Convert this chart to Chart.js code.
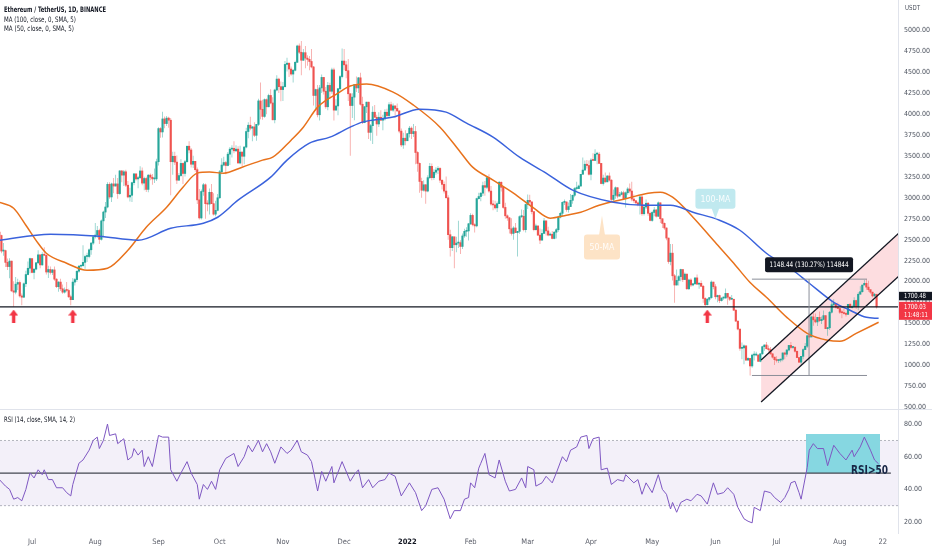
<!DOCTYPE html>
<html lang="en">
<head>
<meta charset="utf-8">
<title>Ethereum / TetherUS, 1D, BINANCE</title>
<script src="https://cdn.jsdelivr.net/npm/chart.js@4.4.1/dist/chart.umd.min.js"></script>
<style>
  body { margin: 0; background: #fff; }
  .pane { position: absolute; left: 0; width: 932px; }
  #pricePane { top: 0; height: 410px; }
  #rsiPane { top: 410px; height: 140px; }
  #sep { position: absolute; left: 0; top: 409px; width: 932px; height: 1px; background: #e0e3eb; z-index: 2; }
</style>
</head>
<body>
<div class="pane" id="pricePane"><canvas id="priceChart"></canvas></div>
<div id="sep"></div>
<div class="pane" id="rsiPane"><canvas id="rsiChart"></canvas></div>
<script>
// Daily ETH/USDT candles, 15 Jun 2021 .. 19 Aug 2022.
// Day numbers count from 1 Jul 2021 (= day 0). Open of each candle = previous close.
const firstDay = -16;
const firstOpen = 2590;

const closes = [
  // Jun 2021 (15-30)
  2550,2365,2370,2230,2180,2245,1890,1875,1970,1990,1830,1815,1975,2085,2160,2275,
  // Jul
  2110,2150,2225,2320,2200,2325,2315,2115,2145,2110,2140,2030,1940,1995,1915,1875,1900,1895,1820,1785,
  1995,2025,2125,2185,2190,2230,2300,2300,2380,2460,2535,
  // Aug
  2555,2610,2505,2725,2830,2890,3160,3010,3165,3140,3165,3050,3320,3270,3310,3150,3010,3030,3180,3285,
  3225,3240,3320,3175,3230,3100,3270,3245,3225,3225,3430,
  // Sep
  3825,3785,3940,3885,3950,3925,3430,3495,3425,3210,3265,3410,3290,3430,3615,3570,3400,3435,3335,2975,
  2760,3075,3155,2930,2925,3065,2930,2805,2850,3000,
  // Oct
  3310,3390,3420,3385,3520,3580,3590,3560,3580,3415,3545,3495,3605,3790,3865,3830,3845,3745,3875,4155,
  4055,3970,4170,4085,4220,4130,3930,4285,4415,4325,4290,
  // Nov
  4325,4590,4605,4535,4475,4520,4615,4810,4735,4640,4730,4665,4650,4625,4560,4220,4290,3990,4310,4435,
  4270,4085,4340,4270,4525,4045,4095,4300,4445,4630,
  // Dec
  4585,4515,4240,4100,4200,4350,4310,4430,4115,3895,4085,4140,3780,3860,4020,3960,3880,3960,3925,3940,
  4020,3980,4110,4045,4095,4065,4035,3795,3630,3710,3680,
  // Jan 2022
  3765,3830,3765,3790,3540,3410,3195,3090,3155,3080,3240,3375,3240,3305,3330,3350,3210,3160,3080,3000,
  2560,2405,2535,2440,2460,2465,2420,2545,2600,2605,2690,
  // Feb
  2790,2680,2665,2990,3015,3055,3145,3125,3240,3080,2925,2915,2880,2930,3185,3125,2885,2785,2760,2630,
  2575,2640,2585,2600,2775,2780,2620,2920,
  // Mar
  2970,2950,2835,2620,2665,2555,2495,2575,2725,2605,2555,2565,2515,2590,2620,2770,2815,2945,2950,2860,
  2895,2970,3030,3110,3110,3140,3280,3330,3400,3385,3280,
  // Apr
  3450,3445,3520,3520,3410,3170,3235,3190,3260,3210,2980,3030,3120,3020,3040,3060,2990,3060,3105,3080,
  2985,2965,2940,2920,3010,2810,2890,2935,2815,2730,
  // May
  2825,2855,2780,2940,2750,2695,2640,2520,2240,2340,2070,1960,2015,2060,2145,2025,2090,1915,2020,1960,
  1975,2045,1970,1980,1945,1800,1725,1790,1810,1995,1940,
  // Jun
  1820,1835,1775,1805,1805,1860,1815,1790,1790,1660,1530,1435,1205,1210,1235,1065,1085,995,1125,1125,
  1125,1050,1140,1225,1245,1200,1190,1140,1100,1070,
  // Jul
  1060,1065,1075,1150,1135,1185,1240,1215,1220,1170,1095,1040,1110,1190,1230,1355,1340,1580,1545,1520,
  1575,1535,1550,1595,1440,1450,1635,1725,1740,1695,1680,
  // Aug (1-19)
  1635,1630,1620,1610,1730,1690,1700,1775,1700,1850,1880,1960,1980,1935,1905,1875,1830,1850,1700.03
];

const highs = [
  2630,2560,2460,2380,2275,2280,2250,2005,2055,2035,2015,1860,1990,2130,2240,2285,
  2275,2155,2235,2375,2320,2350,2410,2320,2190,2180,2150,2180,2040,2005,2035,1965,1930,1995,1915,1845,
  2045,2045,2130,2195,2200,2435,2320,2345,2395,2470,2555,
  2700,2665,2630,2740,2845,2950,3185,3185,3180,3235,3275,3235,3330,3330,3330,3335,3200,3120,3190,3295,
  3290,3260,3375,3360,3250,3250,3280,3290,3285,3350,3465,
  3840,3840,4025,3970,3975,3965,3950,3550,3550,3505,3295,3460,3420,3450,3615,3675,3595,3500,3440,3360,
  3105,3100,3175,3170,2970,3110,3165,3055,2965,3045,
  3330,3470,3490,3440,3545,3605,3625,3675,3625,3615,3620,3550,3615,3835,3900,3965,3855,3900,3880,4180,
  4375,4170,4185,4185,4240,4295,4200,4300,4460,4430,4385,
  4380,4630,4670,4610,4565,4535,4635,4825,4840,4868,4775,4810,4700,4690,4775,4570,4300,4345,4345,4470,
  4440,4320,4380,4370,4550,4550,4175,4310,4460,4780,
  4775,4630,4655,4245,4245,4355,4445,4440,4490,4205,4095,4145,4145,3880,4090,4105,3990,4020,4045,3990,
  4055,4060,4140,4145,4125,4100,4125,4045,3825,3775,3805,
  3770,3855,3850,3880,3855,3555,3420,3240,3210,3165,3270,3415,3410,3340,3365,3375,3365,3215,3195,3255,
  3030,2620,2545,2535,2535,2725,2495,2575,2630,2650,2700,
  2815,2810,2695,3000,3060,3065,3190,3200,3260,3280,3140,2970,2965,2955,3200,3195,3135,2940,2800,2770,
  2755,2660,2700,2605,2790,2860,2855,2930,
  3040,3035,2960,2840,2690,2665,2635,2625,2760,2725,2655,2585,2605,2600,2640,2785,2835,2955,2980,2955,
  2945,3045,3035,3125,3190,3155,3285,3480,3445,3450,3445,
  3470,3530,3580,3550,3545,3415,3275,3300,3270,3300,3220,3100,3135,3125,3070,3080,3085,3075,3125,3170,
  3190,3040,2970,2955,3020,3035,2925,2980,2950,2835,
  2845,2890,2865,2955,2945,2755,2705,2645,2525,2450,2450,2090,2145,2075,2155,2145,2110,2095,2035,2040,
  1985,2050,2085,1990,2015,1960,1815,1805,1815,2015,2000,
  1970,1845,1845,1810,1820,1920,1865,1820,1840,1795,1670,1535,1435,1275,1250,1235,1100,1090,1140,1170,
  1165,1135,1145,1235,1250,1280,1240,1220,1145,1105,
  1110,1070,1080,1155,1165,1195,1245,1280,1230,1220,1175,1095,1115,1205,1270,1365,1405,1595,1625,1620,
  1580,1645,1585,1655,1600,1460,1650,1780,1790,1745,1750,
  1690,1665,1680,1640,1735,1745,1725,1815,1785,1875,1945,1960,2020,2030,2010,1905,1880,1865,1850
];

const lows = [
  2515,2340,2310,2175,2140,2040,1880,1700,1850,1900,1810,1720,1805,1935,2075,2100,
  2100,2030,2135,2210,2160,2190,2305,2085,2045,2085,2080,2010,1925,1880,1890,1855,1860,1875,1805,1718,
  1780,1955,1995,2105,2150,2180,2155,2235,2280,2320,2440,
  2515,2525,2450,2490,2530,2760,2875,2990,2950,3055,3135,2990,3035,3185,3140,3130,2995,2955,2950,3150,
  3205,3115,3225,3150,3090,3070,3065,3210,3155,3175,3200,
  3385,3715,3720,3830,3855,3835,3030,3275,3390,3165,3200,3250,3165,3255,3420,3530,3360,3355,3310,2925,
  2740,2740,3025,2750,2840,2800,2925,2790,2780,2840,
  2990,3280,3375,3280,3375,3390,3480,3530,3545,3410,3400,3380,3400,3590,3710,3805,3675,3725,3680,3855,
  3935,3930,3955,3995,4080,4115,3925,3890,4270,4250,4150,
  4155,4315,4505,4440,4455,4375,4510,4610,4715,4460,4630,4545,4575,4520,4545,4100,4060,3960,3920,4250,
  4230,4060,4045,4180,4240,3920,4040,3985,4280,4425,
  4520,4425,4155,3500,3950,3925,4260,4250,4100,3880,3895,4010,3700,3680,3640,3955,3740,3845,3915,3805,
  3920,3960,3950,4035,4025,3985,4030,3770,3605,3585,3625,
  3680,3720,3700,3725,3400,3310,3060,3000,3075,2930,3065,3225,3210,3215,3275,3285,3175,3100,3050,2995,
  2500,2300,2365,2160,2350,2400,2330,2390,2525,2535,2490,
  2675,2660,2585,2650,2980,2960,3020,3025,3105,3060,2905,2850,2860,2830,2925,3075,2870,2750,2725,2575,
  2550,2500,2580,2300,2570,2760,2600,2585,
  2865,2915,2805,2600,2610,2545,2450,2490,2575,2550,2540,2550,2505,2505,2515,2595,2755,2780,2915,2835,
  2825,2895,2930,3005,3085,3105,3135,3280,3325,3350,3265,
  3210,3440,3440,3400,3405,3160,3145,3180,3185,3195,2950,2955,2990,2995,3015,3030,2980,2885,3035,3055,
  2960,2940,2925,2900,2800,2785,2790,2865,2785,2720,
  2715,2780,2765,2770,2700,2640,2620,2495,2215,2195,2015,1750,1955,1955,2005,1995,2020,1905,1900,1935,
  1945,1960,1965,1915,1935,1750,1705,1720,1765,1795,1910,
  1790,1755,1745,1765,1785,1800,1725,1770,1785,1650,1520,1420,1175,1075,1015,1055,1060,881.56,975,1060,
  1110,1045,1040,1130,1175,1195,1165,1130,1085,1005,
  1035,1030,1040,1050,1075,1105,1170,1195,1200,1155,1090,1030,1010,1075,1185,1210,1335,1340,1475,1505,
  1470,1520,1495,1540,1435,1355,1425,1620,1690,1680,1675,
  1615,1565,1610,1585,1605,1685,1680,1700,1675,1660,1850,1870,1960,1905,1880,1855,1815,1820,1680
];

// moving averages (day, value)
const ma100Days = [-16, 9, 33, 52, 68, 84, 91, 101, 117, 125, 136, 146, 156, 162, 177, 190, 203, 213, 226,
  239, 252, 265, 285, 300, 313, 324, 337, 347, 360, 373, 381, 393, 401, 409, 415];
const ma100 = [2494, 2566, 2542, 2494, 2637, 2697, 2768, 2971, 3246, 3449, 3651, 3723, 3842, 3902, 3962, 4057,
  4021, 3890, 3723, 3484, 3294, 3091, 2947, 2912, 2912, 2828, 2733, 2613, 2339, 2136, 1981, 1754, 1659, 1575, 1563];

const ma50Days = [-16, -9, -3, 3, 7, 17, 27, 37, 47, 56, 66, 74, 81, 87, 94, 103, 113, 118, 127, 133, 140,
  150, 156, 164, 177, 187, 200, 210, 216, 226, 236, 246, 254, 262, 269, 278, 292, 302, 308, 314, 324, 334,
  344, 352, 360, 370, 380, 390, 396, 404, 415];
const ma50 = [2947, 2876, 2673, 2458, 2339, 2220, 2136, 2160, 2375, 2649, 2888, 3126, 3294, 3306, 3294, 3365,
  3449, 3484, 3687, 3842, 4081, 4248, 4332, 4356, 4260, 4105, 3842, 3544, 3365, 3210, 3055, 2876, 2757,
  2792, 2828, 2912, 2995, 3055, 3067, 3007, 2769, 2494, 2220, 1990, 1814, 1575, 1384, 1301, 1289, 1384, 1516];

// RSI (14) (day, value)
const rsiDays = [-16, -13, -11, -9, -7, -5, -3, -1, 1, 3, 5, 6, 8, 10, 12, 15, 17, 19, 20, 23, 25, 28, 30, 32,
  33, 35, 37, 38, 41, 42, 45, 47, 49, 50, 52, 54, 55, 57, 59, 62, 64, 67, 68, 71, 73, 76, 78, 81, 82, 84, 86,
  88, 90, 92, 95, 99, 101, 104, 106, 108, 111, 113, 115, 117, 119, 122, 125, 127, 130, 132, 135, 137, 139,
  140, 142, 144, 147, 148, 152, 156, 158, 160, 162, 165, 167, 170, 173, 175, 178, 181, 185, 188, 191, 193,
  196, 199, 202, 205, 207, 210, 212, 214, 215, 217, 219, 220, 222, 224, 227, 229, 232, 234, 237, 240, 242,
  243, 246, 247, 250, 252, 255, 257, 260, 262, 264, 267, 269, 272, 273, 275, 278, 279, 282, 284, 287, 290,
  291, 295, 297, 299, 301, 304, 307, 309, 311, 313, 314, 316, 318, 321, 323, 326, 328, 331, 334, 336, 339,
  341, 344, 346, 349, 351, 353, 354, 357, 359, 362, 364, 367, 369, 371, 372, 374, 376, 377, 380, 381, 383,
  385, 388, 390, 393, 396, 399, 402, 403, 406, 408, 411, 413, 415];
const rsiValues = [46, 42, 40, 34, 35, 33, 40, 50, 47, 52, 49, 52, 46, 46, 41, 41, 38, 36, 43, 56, 58, 64, 70,
  72, 65, 70, 80, 73, 74, 68, 71, 58, 60, 65, 61, 64, 54, 60, 54, 73, 72, 72, 52, 45, 50, 57, 50, 43, 34, 43,
  40, 45, 40, 52, 59, 62, 54, 60, 67, 63, 70, 63, 68, 63, 56, 66, 62, 64, 70, 63, 61, 57, 45, 39, 51, 45, 54,
  44, 57, 45, 49, 52, 41, 46, 41, 45, 46, 50, 48, 36, 44, 38, 27, 30, 40, 41, 34, 22, 27, 27, 34, 35, 44, 41,
  53, 56, 62, 49, 47, 58, 45, 39, 40, 47, 41, 54, 52, 42, 44, 48, 44, 50, 60, 57, 64, 66, 72, 73, 65, 71, 72,
  52, 53, 43, 46, 45, 49, 44, 46, 37, 44, 38, 49, 40, 37, 28, 32, 26, 32, 34, 33, 37, 36, 31, 44, 37, 38, 41,
  37, 29, 22, 20.5, 19.5, 29, 27, 39, 38, 35, 32, 35, 40, 44, 45, 38, 34, 53.5, 64, 68, 65, 65, 54.5, 67, 62,
  58, 64, 60, 66, 72, 64, 58, 55.6];

// drawings on the chart
const supportLevel = 1700.48;
const lastPrice = 1700.03;
const channelDays = [357.4, 425.5];
const channelUpper = [1067, 2592];
const channelLower = [566, 2080];
const measureDays = [352.9, 409.3];
const measureMidDay = 380.9;
const measureRange = [881.56, 2030];
const arrowDays = [-9, 20, 331];
const arrowLevel = 1590;
const rsiBoxDays = [379.4, 415.7];
const rsiBoxRange = [50, 73.9];

// axis ticks
const priceTicks = [500, 750, 1000, 1250, 1500, 1750, 2000, 2250, 2500, 2750, 3000, 3250, 3500, 3750, 4000,
  4250, 4500, 4750, 5000];
const rsiTicks = [20, 40, 60, 80];
const monthDays = [0, 31, 62, 92, 123, 153, 184, 215, 243, 274, 304, 335, 365, 396, 417];
const monthLabels = ['Jul', 'Aug', 'Sep', 'Oct', 'Nov', 'Dec', '2022', 'Feb', 'Mar', 'Apr', 'May', 'Jun',
  'Jul', 'Aug', '22'];

const UP = '#26a69a', DOWN = '#ef5350';
const UP_WICK = 'rgba(38,166,154,0.55)', DOWN_WICK = 'rgba(239,83,80,0.55)';
const FONT = "'Liberation Sans Narrow', 'DejaVu Sans Condensed', 'Arial Narrow', sans-serif";
const xMin = -15.69, xMax = 424.5;

Chart.defaults.font.family = FONT;
Chart.defaults.animation = false;

const wicks = [], bodies = [], bodyColors = [], wickColors = [];
closes.forEach((c, i) => {
  const o = i === 0 ? firstOpen : closes[i - 1];
  const day = firstDay + i;
  wicks.push({x: day, y: [lows[i], highs[i]]});
  bodies.push({x: day, y: [o, c]});
  bodyColors.push(c >= o ? UP : DOWN);
  wickColors.push(c >= o ? UP_WICK : DOWN_WICK);
});

const pts = (days, vals) => days.map((d, i) => ({x: d, y: vals[i]}));
const flat = (days, v) => days.map(d => ({x: d, y: v}));

function arrowImage() {
  const c = document.createElement('canvas');
  c.width = 9; c.height = 13;
  const g = c.getContext('2d');
  g.fillStyle = '#f23645';
  g.beginPath();
  g.moveTo(4.5, 0); g.lineTo(9, 6); g.lineTo(6.2, 6); g.lineTo(6.2, 13);
  g.lineTo(2.8, 13); g.lineTo(2.8, 6); g.lineTo(0, 6);
  g.closePath(); g.fill();
  return c;
}

// text squeezed to the width it has in the picture
function label(ctx, text, x, y, font, maxW) {
  ctx.font = font;
  ctx.fillText(text, x, y, maxW);
}

function callout(ctx, tipX, tipY, text, fill, below, w, h, gap, textW) {
  ctx.save();
  ctx.fillStyle = fill;
  const left = tipX - w / 2;
  const top = below ? tipY + gap : tipY - gap - h;
  ctx.beginPath();
  ctx.roundRect(left, top, w, h, 3);
  ctx.fill();
  ctx.beginPath();
  if (below) { ctx.moveTo(tipX - 3, top + 1); ctx.lineTo(tipX, tipY); ctx.lineTo(tipX + 3, top + 1); }
  else { ctx.moveTo(tipX - 4, top + h - 1); ctx.lineTo(tipX, tipY); ctx.lineTo(tipX + 4, top + h - 1); }
  ctx.fill();
  ctx.fillStyle = 'rgba(255,255,255,0.9)';
  ctx.textAlign = 'center';
  ctx.textBaseline = 'middle';
  label(ctx, text, tipX, top + h / 2 + 0.5, '9px ' + FONT, textW);
  ctx.restore();
}

const priceOverlay = {
  id: 'priceOverlay',
  afterDatasetsDraw(chart) {
    const {ctx, scales: {x, y}} = chart;
    callout(ctx, x.getPixelForValue(335), y.getPixelForValue(2750), '100-MA', '#c0e9ef', false, 40, 20, 10, 30);
    callout(ctx, x.getPixelForValue(279.4), y.getPixelForValue(2790), '50-MA', '#fde3c6', true, 36, 25, 19, 25);

    // measure label
    const mx = x.getPixelForValue(measureMidDay);
    const my = y.getPixelForValue(measureRange[1]);
    ctx.save();
    ctx.fillStyle = '#131722';
    ctx.beginPath();
    ctx.roundRect(mx - 44, my - 22, 88, 15, 2);
    ctx.fill();
    ctx.fillStyle = '#fff';
    ctx.textAlign = 'center';
    ctx.textBaseline = 'middle';
    label(ctx, '1148.44 (130.27%) 114844', mx, my - 14.5, '7.5px ' + FONT, 79);
    ctx.restore();
  },
  afterDraw(chart) {
    const {ctx, scales: {y}} = chart;
    ctx.save();
    ctx.fillStyle = '#131722';
    ctx.textBaseline = 'middle';
    label(ctx, 'Ethereum / TetherUS, 1D, BINANCE', 4, 10, 'bold 7.5px ' + FONT, 102);
    label(ctx, 'MA (100, close, 0, SMA, 5)', 4, 20, '7.5px ' + FONT, 72);
    label(ctx, 'MA (50, close, 0, SMA, 5)', 4, 29.5, '7.5px ' + FONT, 70);
    ctx.fillStyle = '#4c525e';
    label(ctx, 'USDT', 905, 8, '7px ' + FONT, 15);

    const yp = y.getPixelForValue(lastPrice);
    const ax = chart.chartArea.right + 1;
    ctx.fillStyle = '#131722';
    ctx.fillRect(ax, yp - 15, 33, 8.5);
    ctx.fillStyle = '#f23645';
    ctx.fillRect(ax, yp - 5, 33, 18);
    ctx.fillStyle = '#fff';
    label(ctx, supportLevel.toFixed(2), ax + 5, yp - 10.5, '7px ' + FONT, 22);
    label(ctx, lastPrice.toFixed(2), ax + 5, yp, '7px ' + FONT, 22);
    label(ctx, '11:48:11', ax + 5, yp + 8, '7px ' + FONT, 24);
    ctx.restore();
  }
};

const rsiOverlay = {
  id: 'rsiOverlay',
  afterDraw(chart) {
    const {ctx, scales: {x, y}} = chart;
    ctx.save();
    ctx.fillStyle = '#131722';
    ctx.textBaseline = 'middle';
    label(ctx, 'RSI (14, close, SMA, 14, 2)', 4, 10, '7.5px ' + FONT, 71);
    ctx.fillStyle = '#172545';
    ctx.textBaseline = 'alphabetic';
    label(ctx, 'RSI>50', x.getPixelForValue(401.5), y.getPixelForValue(50) + 0.5, 'bold 13px ' + FONT, 37);
    ctx.restore();
  }
};

const axisTicks = {padding: 6, font: {size: 7}, color: '#4c525e', callback: v => v.toFixed(2)};
// fixed axis width, and no extra padding above/below the plot
const fitRight = s => { s.width = 34; s.paddingTop = 0; s.paddingBottom = 0; };

new Chart(document.getElementById('priceChart'), {
  type: 'bar',
  data: {
    datasets: [
      {type: 'line', data: pts(channelDays, channelUpper), borderColor: '#131722', borderWidth: 1.3,
        pointRadius: 0, fill: '+1', backgroundColor: 'rgba(242,54,69,0.17)', order: 2},
      {type: 'line', data: pts(channelDays, channelLower), borderColor: '#131722', borderWidth: 1.3,
        pointRadius: 0, fill: false, order: 2},
      {data: wicks, backgroundColor: wickColors, barThickness: 0.8, grouped: false, inflateAmount: 0, order: 9},
      {data: bodies, backgroundColor: bodyColors, barThickness: 1.5, grouped: false, minBarLength: 1, order: 8},
      {type: 'line', data: pts(ma100Days, ma100), borderColor: '#3a62dc', borderWidth: 1.5, pointRadius: 0,
        cubicInterpolationMode: 'monotone', order: 5},
      {type: 'line', data: pts(ma50Days, ma50), borderColor: '#e8721c', borderWidth: 1.5, pointRadius: 0,
        cubicInterpolationMode: 'monotone', order: 5},
      {type: 'line', data: flat([xMin, xMax], supportLevel), borderColor: '#131722', borderWidth: 1.2,
        pointRadius: 0, order: 4},
      {type: 'line', data: flat(measureDays, measureRange[1]), borderColor: '#8a8e99', borderWidth: 1,
        pointRadius: 0, order: 3},
      {type: 'line', data: flat(measureDays, measureRange[0]), borderColor: '#8a8e99', borderWidth: 1,
        pointRadius: 0, order: 3},
      {type: 'line', data: measureRange.map(v => ({x: measureMidDay, y: v})), borderColor: '#8a8e99',
        borderWidth: 1, pointRadius: 0, order: 3},
      {type: 'scatter', data: flat(arrowDays, arrowLevel), pointStyle: arrowImage(), order: 1}
    ]
  },
  options: {
    responsive: true,
    maintainAspectRatio: false,
    layout: {padding: 0, autoPadding: false},
    plugins: {legend: {display: false}, tooltip: {enabled: false}, filler: {drawTime: 'beforeDatasetsDraw'}},
    scales: {
      x: {type: 'linear', min: xMin, max: xMax, offset: false, display: false},
      y: {
        position: 'right', min: 470, max: 5358,
        grid: {display: false, drawTicks: false}, border: {color: '#e0e3eb'},
        afterBuildTicks: s => { s.ticks = priceTicks.map(v => ({value: v})); },
        afterFit: fitRight,
        ticks: axisTicks
      }
    }
  },
  plugins: [priceOverlay]
});

new Chart(document.getElementById('rsiChart'), {
  type: 'line',
  data: {
    datasets: [
      {data: pts(rsiDays, rsiValues), borderColor: '#7e57c2', borderWidth: 1, pointRadius: 0, order: 0},
      {data: flat([xMin, 421], 50), borderColor: '#434651', borderWidth: 1.2, pointRadius: 0, order: 1},
      {data: flat(rsiBoxDays, rsiBoxRange[1]), fill: {value: rsiBoxRange[0]}, backgroundColor: '#86d7e1',
        borderWidth: 0, pointRadius: 0, order: 2},
      {data: flat([xMin, xMax], 70), borderColor: '#a3a6af', borderDash: [2, 2], borderWidth: 0.8,
        pointRadius: 0, fill: {value: 30}, backgroundColor: 'rgba(126,87,194,0.09)', order: 3},
      {data: flat([xMin, xMax], 30), borderColor: '#a3a6af', borderDash: [2, 2], borderWidth: 0.8,
        pointRadius: 0, order: 3}
    ]
  },
  options: {
    responsive: true,
    maintainAspectRatio: false,
    layout: {padding: 0, autoPadding: false},
    plugins: {legend: {display: false}, tooltip: {enabled: false}},
    scales: {
      x: {
        type: 'linear', min: xMin, max: xMax, offset: false,
        grid: {display: false, drawTicks: false}, border: {display: false},
        afterBuildTicks: s => { s.ticks = monthDays.map(v => ({value: v})); },
        afterFit: s => { s.height = 17; },
        ticks: {
          autoSkip: false, maxRotation: 0, padding: 5,
          callback: (v, i) => monthLabels[i],
          font: c => ({size: 7.5, weight: monthLabels[c.index] === '2022' ? 'bold' : 'normal'}),
          color: c => monthLabels[c.index] === '2022' ? '#131722' : '#5d606b'
        }
      },
      y: {
        position: 'right', min: 13.3, max: 88.6,
        grid: {display: false, drawTicks: false}, border: {color: '#e0e3eb'},
        afterBuildTicks: s => { s.ticks = rsiTicks.map(v => ({value: v})); },
        afterFit: fitRight,
        ticks: axisTicks
      }
    }
  },
  plugins: [rsiOverlay]
});
</script>
</body>
</html>
